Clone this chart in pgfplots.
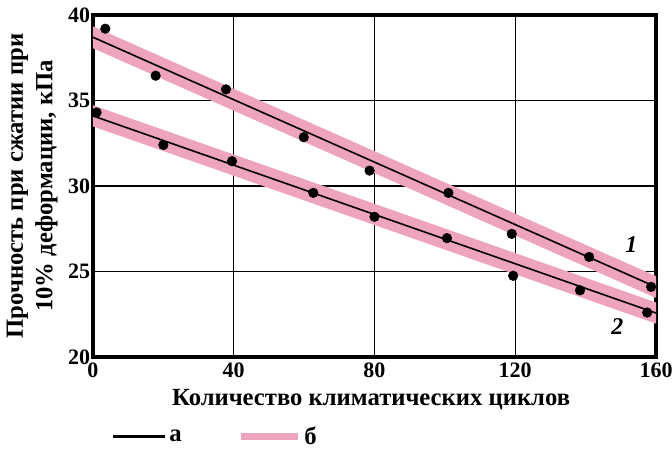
\documentclass[border=0pt]{standalone}
\usepackage{fontspec}
\setmainfont{Liberation Serif}
\usepackage{pgfplots}
\pgfplotsset{compat=1.18}
\definecolor{bandpink}{RGB}{238,163,190}
\begin{document}
\begin{tikzpicture}
\begin{axis}[
  scale only axis,
  width=422.25pt, height=256.5pt,
  xmin=0, xmax=160, ymin=20, ymax=40,
  xtick={0,40,80,120,160}, ytick={20,25,30,35,40},
  major tick length=0pt,
  grid=major,
  major grid style={black, line width=0.9pt},
  axis line style={black, line width=2.4pt},
  /pgf/number format/assume math mode=true,
  tick label style={font=\fontsize{16.5}{18}\selectfont\bfseries},
  yticklabel style={xshift=-1pt, inner sep=1pt},
  xticklabel style={yshift=-3pt, inner sep=1pt},
  label style={font=\fontsize{18.5}{22}\selectfont\bfseries},
  xlabel={Количество климатических циклов},
  ylabel={Прочность при сжатии при\\10\% деформации, кПа},
  xlabel style={at={(axis description cs:0.494,-0.125)}, anchor=center},
  ylabel style={at={(axis description cs:-0.108,0.5)}, anchor=center, rotate=0, align=center},
  legend style={at={(axis description cs:0.025,-0.232)}, anchor=west, draw=none, fill=none,
    font=\fontsize{18.5}{22}\selectfont\bfseries, legend columns=2,
    /tikz/every even column/.append style={column sep=40pt}},
  legend cell align=left,
  clip=true,
]
% bands (б)
\addplot[bandpink, line width=15pt, line cap=butt, forget plot] coordinates {(-3,38.97) (161,24.0)};
\addplot[bandpink, line width=15pt, line cap=butt, forget plot] coordinates {(-3,34.32) (161,22.5)};
% fitted lines (а)
\addplot[black, line width=1.2pt, forget plot] coordinates {(0,38.7) (161,24.0)};
\addplot[black, line width=1.2pt, forget plot] coordinates {(0,34.1) (161,22.5)};
% data points
\addplot[only marks, mark=*, mark size=3.6pt, black, forget plot] coordinates {
(3.5,39.2) (17.8,36.45) (37.8,35.65) (59.9,32.85) (78.6,30.9) (101,29.6) (119,27.2) (141,25.85) (158.6,24.1)};
\addplot[only marks, mark=*, mark size=3.6pt, black, forget plot] coordinates {
(1,34.3) (20,32.4) (39.5,31.45) (62.6,29.6) (80,28.2) (100.6,26.95) (119.4,24.75) (138.4,23.9) (157.5,22.6)};
\addlegendimage{legend image code/.code={\draw[black, line width=2.6pt] (0pt,0pt) -- (39pt,0pt);}}
\addlegendentry{а}
\addlegendimage{legend image code/.code={\draw[bandpink, line width=5pt] (0pt,0pt) -- (43pt,0pt);}}
\addlegendentry{б}
\node[font=\fontsize{18}{20}\selectfont\bfseries\itshape] at (axis cs:153,26.6) {1};
\node[font=\fontsize{18}{20}\selectfont\bfseries\itshape] at (axis cs:149,21.8) {2};
\end{axis}
\pgfresetboundingbox
\path ([xshift=-69.75pt,yshift=-69.75pt]current axis.south west) rectangle ([xshift=12pt,yshift=11.25pt]current axis.north east);
\end{tikzpicture}
\end{document}
